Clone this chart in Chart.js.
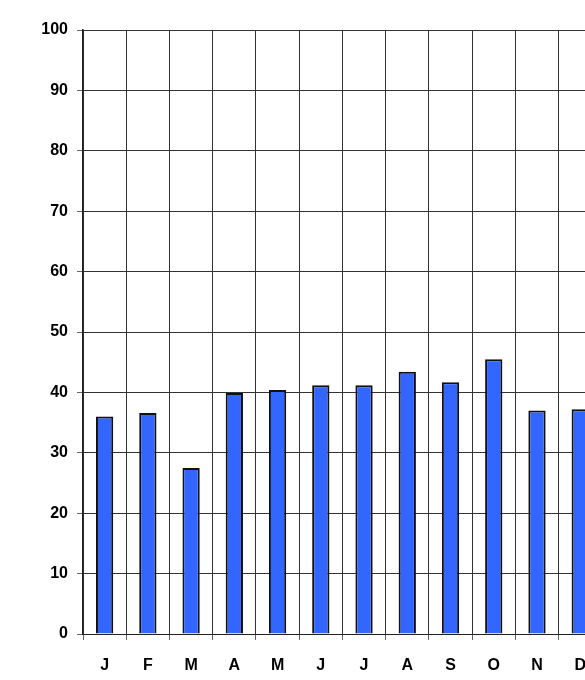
<!DOCTYPE html>
<html>
<head>
<meta charset="utf-8">
<script src="https://cdn.jsdelivr.net/npm/chart.js@4"></script>
<style>
  html, body { margin: 0; padding: 0; background: #fff; overflow: hidden; }
  #wrap { width: 602px; height: 680px; }
</style>
</head>
<body>
<div id="wrap"><canvas id="myChart" width="602" height="680"></canvas></div>
<script>
// months and values
var months = ["J", "F", "M", "A", "M", "J", "J", "A", "S", "O", "N", "D"];
var values = [36.0, 36.6, 27.5, 39.9, 40.4, 41.2, 41.2, 43.4, 41.7, 45.5, 37.0, 37.2];
var yTicks = [0, 10, 20, 30, 40, 50, 60, 70, 80, 90, 100];

var lineColor = '#333';

new Chart(document.getElementById("myChart").getContext('2d'), {
  type: 'bar',
  data: {
    labels: months,
    datasets: [{
      label: '',
      data: values,
      backgroundColor: '#3366ff',
      borderColor: '#111',
      borderWidth: 2,
      barPercentage: 0.4,
      categoryPercentage: 1
    }]
  },
  options: {
    responsive: false,
    animation: false,
    layout: { padding: { top: 30, left: 0, right: 0, bottom: 0 } },
    plugins: {
      legend: { display: false },
      title: { display: false },
      tooltip: { enabled: false }
    },
    scales: {
      x: {
        grid: {
          offset: true,
          color: lineColor,
          lineWidth: 1,
          tickLength: 6,
          tickColor: '#666'
        },
        border: { color: '#222', width: 1 },
        ticks: {
          color: '#000',
          padding: 16,
          font: { family: 'Liberation Sans, Arial, sans-serif', size: 16, weight: 'bold' }
        },
        afterFit: function (scale) { scale.height = 46; }
      },
      y: {
        min: 0,
        max: 100,
        afterBuildTicks: function (scale) {
          scale.ticks = yTicks.map(function (v) { return { value: v }; });
        },
        grid: {
          color: lineColor,
          lineWidth: 1,
          tickLength: 6,
          tickColor: '#666'
        },
        border: { color: '#222', width: 1.5 },
        ticks: {
          color: '#000',
          padding: 9,
          font: { family: 'Liberation Sans, Arial, sans-serif', size: 16, weight: 'bold' }
        },
        afterFit: function (scale) { scale.width = 83; }
      }
    }
  }
});
</script>
</body>
</html>
